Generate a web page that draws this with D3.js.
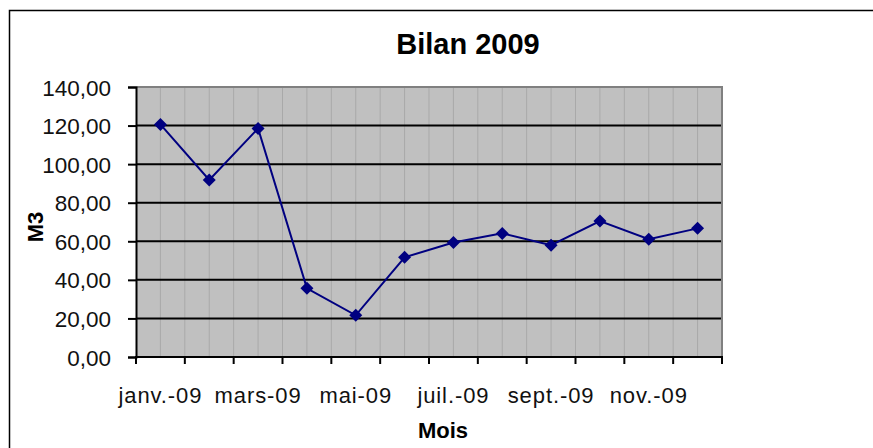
<!DOCTYPE html>
<html>
<head>
<meta charset="utf-8">
<script src="https://cdn.jsdelivr.net/npm/d3@7"></script>
<style>
  html, body { margin: 0; padding: 0; background: #fff; }
  svg { display: block; font-family: "Liberation Sans", Arial, sans-serif; }
</style>
</head>
<body>
<svg id="chart" width="873" height="448"></svg>
<script>
// Bilan 2009 — volume mensuel (M3)

const months = ['janv.-09', 'févr.-09', 'mars-09', 'avr.-09', 'mai-09', 'juin-09',
  'juil.-09', 'août-09', 'sept.-09', 'oct.-09', 'nov.-09', 'déc.-09'];
const volumes = [120.6, 91.8, 118.5, 35.6, 21.6, 51.7, 59.4, 64.1, 58.0, 70.5, 61.1, 66.7];
const yTicks = [0, 20, 40, 60, 80, 100, 120, 140];
const shownLabels = ['janv.-09', 'mars-09', 'mai-09', 'juil.-09', 'sept.-09', 'nov.-09'];

const svg = d3.select('#chart');
const plot = { left: 136, top: 87, right: 722, bottom: 357 };

// outer chart frame (clipped by the picture on the right and bottom)
svg.append('rect')
  .attr('x', 9.5).attr('y', 10.5).attr('width', 900).attr('height', 500)
  .attr('fill', '#fff').attr('stroke', '#000').attr('stroke-width', 1.5);

const x = d3.scaleBand().domain(months).range([plot.left, plot.right]).padding(0);
const y = d3.scaleLinear().domain([0, 140]).range([plot.bottom, plot.top]);

// plot background
svg.append('rect')
  .attr('x', plot.left).attr('y', plot.top)
  .attr('width', plot.right - plot.left).attr('height', plot.bottom - plot.top)
  .attr('fill', '#c0c0c0');

// light vertical grid: category boundaries and centres
const vLines = [];
months.forEach(m => { vLines.push(x(m)); vLines.push(x(m) + x.bandwidth() / 2); });
svg.append('g').selectAll('line').data(vLines.slice(1)).join('line')
  .attr('x1', d => d).attr('x2', d => d)
  .attr('y1', plot.top).attr('y2', plot.bottom)
  .attr('stroke', '#a9a9a9').attr('stroke-width', 1);

// horizontal major grid
svg.append('g').selectAll('line').data(yTicks.filter(t => t > 0 && t < 140)).join('line')
  .attr('x1', plot.left).attr('x2', plot.right)
  .attr('y1', d => y(d)).attr('y2', d => y(d))
  .attr('stroke', '#000').attr('stroke-width', 2);

// plot border top + right (gray)
svg.append('path')
  .attr('d', `M${plot.left},${plot.top}H${plot.right}V${plot.bottom}`)
  .attr('fill', 'none').attr('stroke', '#808080').attr('stroke-width', 2);

// y axis
const yAxis = svg.append('g').attr('transform', `translate(${plot.left},0)`)
  .call(d3.axisLeft(y).tickValues(yTicks).tickSize(8).tickPadding(17)
    .tickFormat(d => d3.format('.2f')(d).replace('.', ',')));
yAxis.select('.domain').attr('stroke', '#000').attr('stroke-width', 2);
yAxis.selectAll('.tick line').attr('stroke', '#000').attr('stroke-width', 2);
yAxis.selectAll('.tick text')
  .attr('font-size', 22.5).attr('fill', '#111').attr('dy', '0.36em')
  .attr('font-family', '"Liberation Sans", Arial, sans-serif');

// x axis
const boundaries = months.map(m => x(m)).concat([plot.right]);
const xAxisG = svg.append('g');
xAxisG.append('line')
  .attr('x1', plot.left - 1).attr('x2', plot.right + 1)
  .attr('y1', plot.bottom).attr('y2', plot.bottom)
  .attr('stroke', '#000').attr('stroke-width', 2);
xAxisG.selectAll('line.tk').data(boundaries).join('line').attr('class', 'tk')
  .attr('x1', d => d).attr('x2', d => d)
  .attr('y1', plot.bottom).attr('y2', plot.bottom + 7)
  .attr('stroke', '#000').attr('stroke-width', 2);
xAxisG.selectAll('text').data(shownLabels).join('text')
  .attr('x', d => x(d) + x.bandwidth() / 2)
  .attr('y', 403)
  .attr('text-anchor', 'middle')
  .attr('font-size', 22)
  .attr('letter-spacing', 0.9)
  .attr('fill', '#111')
  .text(d => d);

// series line + diamond markers
const line = d3.line()
  .x((d, i) => x(months[i]) + x.bandwidth() / 2)
  .y(d => y(d));
svg.append('path').datum(volumes)
  .attr('d', line).attr('fill', 'none')
  .attr('stroke', '#000080').attr('stroke-width', 2);

const r = 6.5;
svg.append('g').selectAll('path').data(volumes).join('path')
  .attr('d', `M0,${-r}L${r},0L0,${r}L${-r},0Z`)
  .attr('transform', (d, i) => `translate(${x(months[i]) + x.bandwidth() / 2},${y(d)})`)
  .attr('fill', '#000080');

// titles
svg.append('text').attr('x', 468).attr('y', 54).attr('text-anchor', 'middle')
  .attr('font-size', 29).attr('font-weight', 'bold').text('Bilan 2009');
svg.append('text').attr('x', 443).attr('y', 438).attr('text-anchor', 'middle')
  .attr('font-size', 22).attr('font-weight', 'bold').text('Mois');
svg.append('text').attr('transform', 'translate(43,227) rotate(-90)').attr('text-anchor', 'middle')
  .attr('font-size', 22).attr('font-weight', 'bold').text('M3');
</script>
</body>
</html>
